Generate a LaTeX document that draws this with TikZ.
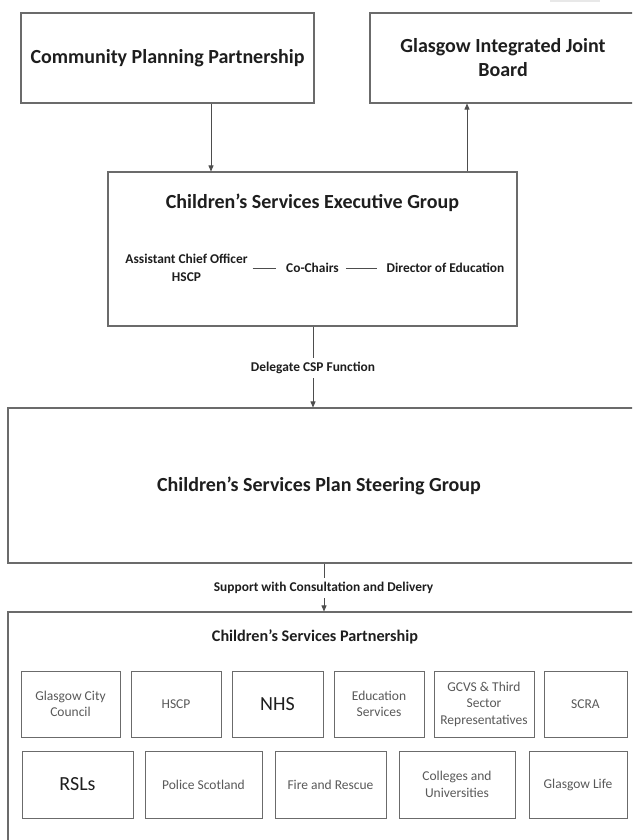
\documentclass[tikz,border=0pt]{standalone}
\usepackage{fontspec}
\setmainfont{Carlito}
\usetikzlibrary{arrows.meta}
\definecolor{bordergray}{HTML}{6B6B6B}
\definecolor{txtdark}{HTML}{1E1E1E}
\definecolor{txtgray}{HTML}{595959}
\definecolor{linegray}{HTML}{4D4D4D}
\begin{document}
\begin{tikzpicture}[x=1pt,y=-1pt,
  frame/.style={draw=bordergray, line width=1.1pt, inner sep=0pt},
  titletxt/.style={font=\bfseries\fontsize{20}{24}\selectfont, text=txtdark, align=center},
  smallbold/.style={font=\bfseries\fontsize{13.4}{18}\selectfont, text=txtdark, align=center, inner sep=0pt},
  member/.style={draw=bordergray, line width=1pt, inner sep=0pt, align=center, font=\fontsize{13.5}{16.5}\selectfont, text=txtgray},
  bigmember/.style={member, font=\fontsize{20}{24}\selectfont, text=txtdark},
  arr/.style={draw=linegray, line width=0.8pt, -{Triangle[width=5pt,length=6pt]}},
  link/.style={draw=linegray, line width=0.8pt}]
\useasboundingbox (0,0) rectangle (632,840);
\fill[white] (0,0) rectangle (632,840);
\begin{scope}
\clip (0,0) rectangle (632,840);
\fill[gray!18] (550,0) rectangle (600,2.5);
% top boxes
\node[frame, titletxt, minimum width=293pt, minimum height=90pt] (cpp) at (167.5,58) {Community Planning Partnership};
\node[frame, titletxt, minimum width=266pt, minimum height=90pt] (gijb) at (503,58) {Glasgow Integrated Joint\\Board};
% executive group
\node[frame, minimum width=409pt, minimum height=154pt] (cseg) at (312.5,249) {};
\node[titletxt, inner sep=0pt] (csegt) at (312.5,203) {Children’s Services Executive Group};
\node[smallbold] (aco) at (186.5,268) {Assistant Chief Officer\\HSCP};
\node[smallbold] (cochairs) at (312.5,268) {Co-Chairs};
\node[smallbold] (doe) at (445.5,268) {Director of Education};
\draw[link, shorten <=5pt, shorten >=10pt] (aco.east) -- (cochairs.west);
\draw[link, shorten <=7pt, shorten >=9pt] (cochairs.east) -- (doe.west);
% steering group
\node[frame, minimum width=628pt, minimum height=155pt] (cspsg) at (322,485.5) {};
\node[titletxt, inner sep=0pt] (cspsgt) at (319,486) {Children’s Services Plan Steering Group};
% partnership
\node[frame, minimum width=632pt, minimum height=240pt] (csp) at (324,732) {};
\node[smallbold, font=\bfseries\fontsize{16.2}{19}\selectfont] (cspt) at (315,637) {Children’s Services Partnership};
% connectors
\coordinate (xa) at (211,0);
\coordinate (xb) at (467,0);
\coordinate (xc) at (313,0);
\coordinate (xd) at (324,0);
\draw[arr] (cpp.south -| xa) -- (cseg.north -| xa);
\draw[arr] (cseg.north -| xb) -- (gijb.south -| xb);
\draw[arr] (cseg.south -| xc) -- (cspsg.north -| xc);
\node[smallbold, fill=white, inner xsep=0pt, inner ysep=4pt] (lab1) at (313,368) {Delegate CSP Function};
\draw[arr] (cspsg.south -| xd) -- (csp.north -| xd);
\node[smallbold, fill=white, inner xsep=0pt, inner ysep=4pt] (lab2) at (323.5,588) {Support with Consultation and Delivery};
% members row 1
\node[member, minimum width=99pt, minimum height=66pt] (gcc) at (70.5,704) {Glasgow City\\Council};
\node[member, minimum width=90pt, minimum height=66pt] (hscp) at (176,704) {HSCP};
\node[bigmember, minimum width=91pt, minimum height=66pt] (nhs) at (277.5,704) {NHS};
\node[member, minimum width=90pt, minimum height=66pt] (edu) at (379,704) {Education\\Services};
\node[member, minimum width=100pt, minimum height=66pt] (gcvs) at (484,704) {GCVS \& Third\\Sector\\Representatives};
\node[member, minimum width=83pt, minimum height=66pt] (scra) at (585.5,704) {SCRA};
% members row 2
\node[bigmember, minimum width=111pt, minimum height=67pt] (rsl) at (77.5,784.5) {RSLs};
\node[member, minimum width=117pt, minimum height=67pt] (police) at (203.5,784.5) {Police Scotland};
\node[member, minimum width=111pt, minimum height=67pt] (fire) at (330.5,784.5) {Fire and Rescue};
\node[member, minimum width=116pt, minimum height=67pt] (coll) at (457,784.5) {Colleges and\\Universities};
\node[member, minimum width=98pt, minimum height=67pt] (life) at (578,784.5) {Glasgow Life};
\end{scope}
\end{tikzpicture}
\end{document}
